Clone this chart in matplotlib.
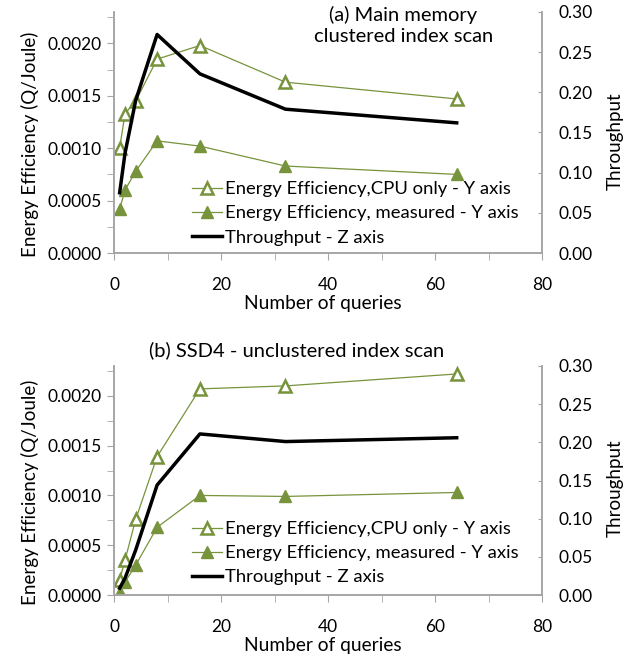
import matplotlib.pyplot as plt
from matplotlib.ticker import MultipleLocator, FormatStrFormatter

plt.rcParams['font.family'] = ['Lato', 'DejaVu Sans']

queries = [1, 2, 4, 8, 16, 32, 64]

# (a) main memory, clustered index scan
cpu_a = [0.00100, 0.00133, 0.00145, 0.00185, 0.00198, 0.00163, 0.00147]
meas_a = [0.00042, 0.00060, 0.00078, 0.00107, 0.00102, 0.00083, 0.00075]
thr_a = [0.075, 0.124, 0.190, 0.272, 0.223, 0.179, 0.162]

# (b) SSD4, unclustered index scan
cpu_b = [0.00015, 0.00035, 0.00076, 0.00139, 0.00207, 0.00210, 0.00222]
meas_b = [0.00003, 0.00013, 0.00030, 0.00068, 0.00100, 0.00099, 0.00103]
thr_b = [0.009, 0.022, 0.059, 0.144, 0.211, 0.201, 0.206]

green = '#77933C'
spine = '#a6a6a6'

fig = plt.figure(figsize=(6.35, 6.58), dpi=100)
axA = fig.add_axes([0.18, 0.6155, 0.674, 0.3663])
axB = fig.add_axes([0.18, 0.0957, 0.674, 0.3481])


def panel(ax, cpu, meas, thr, leg_y):
    l1, = ax.plot(queries, cpu, color=green, lw=0.9, marker='^', ms=8.5,
                  mfc='white', mec=green, mew=1.8,
                  label='Energy Efficiency,CPU only - Y axis')
    l2, = ax.plot(queries, meas, color=green, lw=0.9, marker='^', ms=8.5,
                  mfc=green, mec=green,
                  label='Energy Efficiency, measured - Y axis')
    ax.set_xlim(0, 80)
    ax.set_ylim(0, 0.0023)
    ax.xaxis.set_major_locator(MultipleLocator(20))
    ax.xaxis.set_minor_locator(MultipleLocator(10))
    ax.yaxis.set_major_locator(MultipleLocator(0.0005))
    ax.yaxis.set_minor_locator(MultipleLocator(0.00025))
    ax.yaxis.set_major_formatter(FormatStrFormatter('%.4f'))
    ax.set_ylabel('Energy Efficiency (Q/Joule)', fontsize=13.5, labelpad=6, y=0.45)
    ax.set_xlabel('Number of queries', fontsize=13.8, x=0.487, labelpad=2)
    ax.spines['top'].set_visible(False)

    ax2 = ax.twinx()
    l3, = ax2.plot(queries, thr, color='black', lw=2.5,
                   label='Throughput - Z axis')
    ax2.set_ylim(0, 0.30)
    ax2.yaxis.set_major_locator(MultipleLocator(0.05))
    ax2.yaxis.set_major_formatter(FormatStrFormatter('%.2f'))
    ax2.set_ylabel('Throughput', fontsize=13.5, labelpad=10, y=0.465)
    ax2.spines['top'].set_visible(False)
    for a in (ax, ax2):
        for s in ('left', 'right', 'bottom'):
            a.spines[s].set_color(spine)
            a.spines[s].set_linewidth(1.2)
    ax.tick_params(which='both', direction='out', length=5, color=spine,
                   labelsize=12.5)
    ax.tick_params(axis='x', which='both', pad=12)
    ax.tick_params(axis='y', which='both', pad=4)
    ax2.tick_params(which='both', direction='in', length=3, color=spine,
                    labelsize=12.5, pad=12)
    ax.legend(handles=[l1, l2, l3], loc='lower left',
              bbox_to_anchor=(0.165, leg_y), frameon=False, fontsize=13.3,
              handlelength=1.6, handletextpad=0.15, labelspacing=0.44,
              borderaxespad=0.0)
    return ax2


panel(axA, cpu_a, meas_a, thr_a, 0.0)
panel(axB, cpu_b, meas_b, thr_b, 0.01)

axA.text(0.675, 1.025, '(a) Main memory\nclustered index scan', transform=axA.transAxes,
         ha='center', va='top', fontsize=14.5, linespacing=1.25)
axB.text(0.425, 1.03, '(b) SSD4 - unclustered index scan', transform=axB.transAxes,
         ha='center', va='bottom', fontsize=14.5)

fig.savefig('out.png', dpi=100)
